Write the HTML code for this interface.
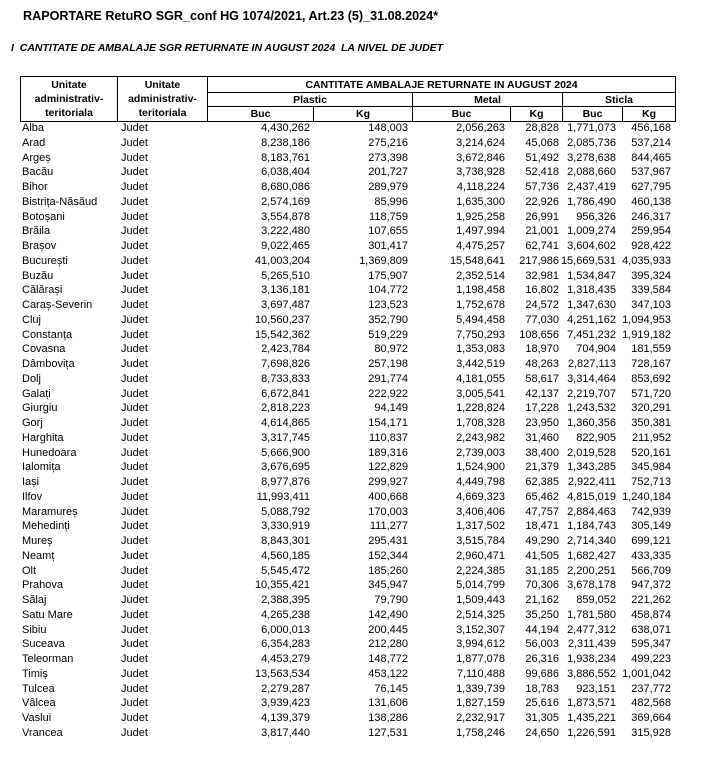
<!DOCTYPE html>
<html><head><meta charset="utf-8"><style>
body{margin:0;width:701px;height:771px;background:#fff;position:relative;font-family:"Liberation Sans",sans-serif;color:#000;overflow:hidden}
.t1{position:absolute;left:23px;top:9px;font-weight:bold;font-size:12.6px}
.t2{position:absolute;left:11px;top:42px;font-weight:bold;font-style:italic;font-size:10.5px}
.hd{position:absolute;border:1.3px solid #000;box-sizing:border-box;font-weight:bold;font-size:10.5px;display:flex;align-items:center;justify-content:center;text-align:center;line-height:14px}
.rows{position:absolute;left:0;top:121px;width:701px}
.r{height:14.76px;position:relative;font-size:11px;line-height:14.76px}
.r span{position:absolute;top:0}
.c1{left:22px}.c2{left:121px}
.n{text-align:right}
</style></head><body>
<div class="t1">RAPORTARE RetuRO SGR_conf HG 1074/2021, Art.23 (5)_31.08.2024*</div>
<div class="t2">I&nbsp;&nbsp;CANTITATE DE AMBALAJE SGR RETURNATE IN AUGUST 2024&nbsp; LA NIVEL DE JUDET</div>
<div class="hd" style="left:20px;top:76px;width:98px;height:46px">Unitate<br>administrativ-<br>teritoriala</div>
<div class="hd" style="left:117px;top:76px;width:91px;height:46px">Unitate<br>administrativ-<br>teritoriala</div>
<div class="hd" style="left:207px;top:76px;width:469px;height:17px">CANTITATE AMBALAJE RETURNATE IN AUGUST 2024</div>
<div class="hd" style="left:207px;top:92px;width:206px;height:15px">Plastic</div>
<div class="hd" style="left:412px;top:92px;width:151px;height:15px">Metal</div>
<div class="hd" style="left:562px;top:92px;width:114px;height:15px">Sticla</div>
<div class="hd" style="left:207px;top:106px;width:107px;height:16px">Buc</div>
<div class="hd" style="left:313px;top:106px;width:100px;height:16px">Kg</div>
<div class="hd" style="left:412px;top:106px;width:99px;height:16px">Buc</div>
<div class="hd" style="left:510px;top:106px;width:53px;height:16px">Kg</div>
<div class="hd" style="left:562px;top:106px;width:61px;height:16px">Buc</div>
<div class="hd" style="left:622px;top:106px;width:54px;height:16px">Kg</div>
<div class="rows" id="rows"></div>
<script>
var d=`Alba|4,430,262|148,003|2,056,263|28,828|1,771,073|456,168
Arad|8,238,186|275,216|3,214,624|45,068|2,085,736|537,214
Argeș|8,183,761|273,398|3,672,846|51,492|3,278,638|844,465
Bacău|6,038,404|201,727|3,738,928|52,418|2,088,660|537,967
Bihor|8,680,086|289,979|4,118,224|57,736|2,437,419|627,795
Bistrița-Năsăud|2,574,169|85,996|1,635,300|22,926|1,786,490|460,138
Botoșani|3,554,878|118,759|1,925,258|26,991|956,326|246,317
Brăila|3,222,480|107,655|1,497,994|21,001|1,009,274|259,954
Brașov|9,022,465|301,417|4,475,257|62,741|3,604,602|928,422
București|41,003,204|1,369,809|15,548,641|217,986|15,669,531|4,035,933
Buzău|5,265,510|175,907|2,352,514|32,981|1,534,847|395,324
Călărași|3,136,181|104,772|1,198,458|16,802|1,318,435|339,584
Caraș-Severin|3,697,487|123,523|1,752,678|24,572|1,347,630|347,103
Cluj|10,560,237|352,790|5,494,458|77,030|4,251,162|1,094,953
Constanța|15,542,362|519,229|7,750,293|108,656|7,451,232|1,919,182
Covasna|2,423,784|80,972|1,353,083|18,970|704,904|181,559
Dâmbovița|7,698,826|257,198|3,442,519|48,263|2,827,113|728,167
Dolj|8,733,833|291,774|4,181,055|58,617|3,314,464|853,692
Galați|6,672,841|222,922|3,005,541|42,137|2,219,707|571,720
Giurgiu|2,818,223|94,149|1,228,824|17,228|1,243,532|320,291
Gorj|4,614,865|154,171|1,708,328|23,950|1,360,356|350,381
Harghita|3,317,745|110,837|2,243,982|31,460|822,905|211,952
Hunedoara|5,666,900|189,316|2,739,003|38,400|2,019,528|520,161
Ialomița|3,676,695|122,829|1,524,900|21,379|1,343,285|345,984
Iași|8,977,876|299,927|4,449,798|62,385|2,922,411|752,713
Ilfov|11,993,411|400,668|4,669,323|65,462|4,815,019|1,240,184
Maramureș|5,088,792|170,003|3,406,406|47,757|2,884,463|742,939
Mehedinți|3,330,919|111,277|1,317,502|18,471|1,184,743|305,149
Mureș|8,843,301|295,431|3,515,784|49,290|2,714,340|699,121
Neamț|4,560,185|152,344|2,960,471|41,505|1,682,427|433,335
Olt|5,545,472|185,260|2,224,385|31,185|2,200,251|566,709
Prahova|10,355,421|345,947|5,014,799|70,306|3,678,178|947,372
Sălaj|2,388,395|79,790|1,509,443|21,162|859,052|221,262
Satu Mare|4,265,238|142,490|2,514,325|35,250|1,781,580|458,874
Sibiu|6,000,013|200,445|3,152,307|44,194|2,477,312|638,071
Suceava|6,354,283|212,280|3,994,612|56,003|2,311,439|595,347
Teleorman|4,453,279|148,772|1,877,078|26,316|1,938,234|499,223
Timiș|13,563,534|453,122|7,110,488|99,686|3,886,552|1,001,042
Tulcea|2,279,287|76,145|1,339,739|18,783|923,151|237,772
Vâlcea|3,939,423|131,606|1,827,159|25,616|1,873,571|482,568
Vaslui|4,139,379|138,286|2,232,917|31,305|1,435,221|369,664
Vrancea|3,817,440|127,531|1,758,246|24,650|1,226,591|315,928`;
var R=[310,408,505,559,616,671],h='';
d.split('\n').forEach(function(l){var p=l.split('|');h+='<div class="r"><span class="c1">'+p[0]+'</span><span class="c2">Judet</span>';for(var i=1;i<7;i++)h+='<span class="n" style="right:'+(701-R[i-1])+'px">'+p[i]+'</span>';h+='</div>';});
document.getElementById('rows').innerHTML=h;
</script>
</body></html>
